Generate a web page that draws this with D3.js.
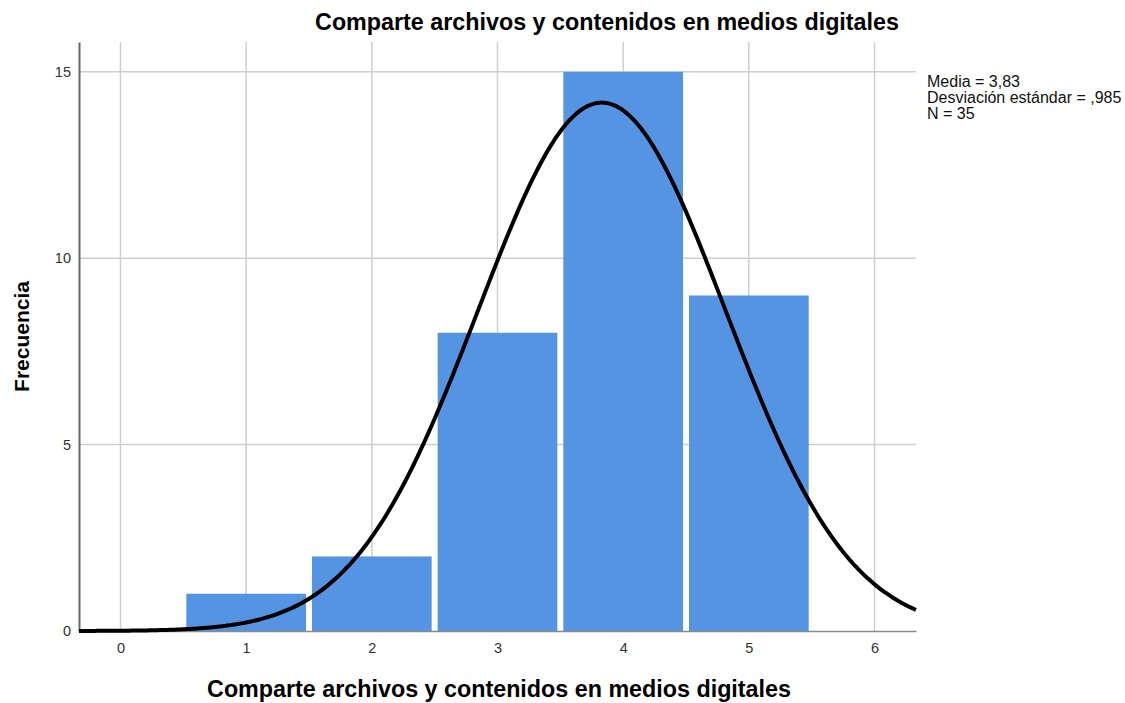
<!DOCTYPE html>
<html>
<head>
<meta charset="utf-8">
<script src="https://cdn.jsdelivr.net/npm/d3@7"></script>
<style>
  body { margin: 0; background: #fff; }
  text { font-family: "Liberation Sans", Arial, sans-serif; }
</style>
</head>
<body>
<script>
const width = 1125;
const height = 703;

// Histogram data
const categories = [1, 2, 3, 4, 5];
const counts = [1, 2, 8, 15, 9];
const xTicks = [0, 1, 2, 3, 4, 5, 6];
const yTicks = [0, 5, 10, 15];
// Normal fit stats (as printed in the legend)
const stats = {mean: 3.83, sd: 0.985, n: 35};
const legendLines = ["Media = 3,83", "Desviación estándar = ,985", "N = 35"];

let margin = {top: 42, right: 209, bottom: 72, left: 79};

let svg = d3.select("body").append("svg")
    .attr("width", width)
    .attr("height", height);

let xScale = d3.scaleLinear()
    .domain([-0.33, 6.33])
    .range([margin.left, width - margin.right]);

let yScale = d3.scaleLinear()
    .domain([0, 15.8])
    .range([height - margin.bottom, margin.top]);

// Grid lines
svg.append("g").selectAll("line")
    .data(xTicks)
    .join("line")
    .attr("x1", d => xScale(d)).attr("x2", d => xScale(d))
    .attr("y1", yScale(15.8)).attr("y2", yScale(0))
    .attr("stroke", "#cfcfcf").attr("stroke-width", 1.5);

svg.append("g").selectAll("line")
    .data(yTicks.filter(d => d > 0))
    .join("line")
    .attr("x1", xScale(-0.33)).attr("x2", xScale(6.33))
    .attr("y1", d => yScale(d)).attr("y2", d => yScale(d))
    .attr("stroke", "#cfcfcf").attr("stroke-width", 1.5);

// Bars (small white gap between neighbours)
const gap = 3;
svg.append("g").selectAll("rect")
    .data(categories.map((c, i) => ({c, v: counts[i]})))
    .join("rect")
    .attr("x", d => xScale(d.c - 0.5) + gap)
    .attr("y", d => yScale(d.v))
    .attr("width", d => xScale(d.c + 0.5) - xScale(d.c - 0.5) - 2 * gap)
    .attr("height", d => yScale(0) - yScale(d.v))
    .attr("fill", "#5594e3");

// Axes
let bottomAxis = d3.axisBottom(xScale).tickValues(xTicks)
    .tickFormat(d3.format("d")).tickSize(0).tickPadding(12);
let leftAxis = d3.axisLeft(yScale).tickValues(yTicks)
    .tickFormat(d3.format("d")).tickSize(0).tickPadding(8);

let bx = svg.append("g")
    .attr("transform", `translate(0, ${yScale(0)})`)
    .call(bottomAxis);
bx.attr("font-size", 14.5).attr("font-family", "Liberation Sans, Arial, sans-serif");
bx.select(".domain").attr("stroke", "#8a8a8a").attr("stroke-width", 1.5);
bx.selectAll("text").attr("fill", "#333");

let lx = svg.append("g")
    .attr("transform", `translate(${margin.left}, 0)`)
    .call(leftAxis);
lx.attr("font-size", 14.5).attr("font-family", "Liberation Sans, Arial, sans-serif");
lx.select(".domain").attr("stroke", "#666").attr("stroke-width", 2);
lx.selectAll("text").attr("fill", "#333");

// Normal curve from the fitted mean / sd, scaled to N * bin width
let xs = d3.range(-0.33, 6.331, 0.02);
let scale = stats.n * 1 / (stats.sd * Math.sqrt(2 * Math.PI));
let curve = xs.map(x => [x, scale * Math.exp(-0.5 * ((x - stats.mean) / stats.sd) ** 2)]);

svg.append("path")
    .datum(curve)
    .attr("fill", "none")
    .attr("stroke", "#000")
    .attr("stroke-width", 4)
    .attr("d", d3.line().x(d => xScale(d[0])).y(d => yScale(d[1])).curve(d3.curveBasis));

// Title
svg.append("text")
    .attr("x", 607).attr("y", 30)
    .attr("text-anchor", "middle")
    .attr("font-size", 23.3).attr("font-weight", "bold")
    .text("Comparte archivos y contenidos en medios digitales");

// Axis labels
svg.append("text")
    .attr("x", 499).attr("y", 697)
    .attr("text-anchor", "middle")
    .attr("font-size", 23.3).attr("font-weight", "bold")
    .text("Comparte archivos y contenidos en medios digitales");

svg.append("text")
    .attr("transform", `translate(29, ${(yScale(0) + yScale(15.8)) / 2}) rotate(-90)`)
    .attr("text-anchor", "middle")
    .attr("font-size", 21).attr("font-weight", "bold")
    .text("Frecuencia");

// Legend
svg.append("g").selectAll("text")
    .data(legendLines)
    .join("text")
    .attr("x", 927)
    .attr("y", (d, i) => 87 + i * 16)
    .attr("font-size", 16)
    .attr("fill", "#111")
    .text(d => d);
</script>
</body>
</html>
